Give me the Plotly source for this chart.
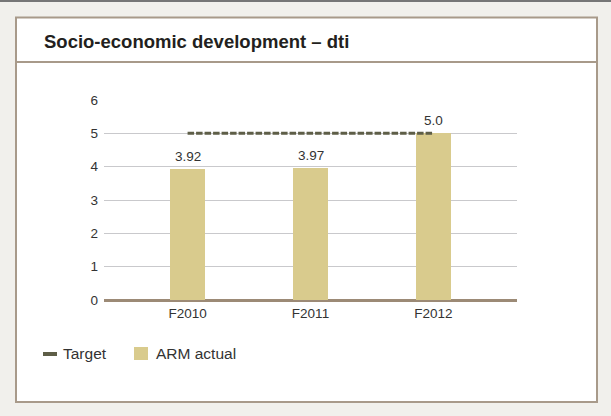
import plotly.graph_objects as go

categories = ["F2010", "F2011", "F2012"]
arm_actual = [3.92, 3.97, 5.0]
arm_labels = ["3.92", "3.97", "5.0"]
target = [5, 5, 5]
y_ticks = [0, 1, 2, 3, 4, 5, 6]

title_text = "Socio-economic development – dti"
legend_names = ["Target", "ARM actual"]

BAR_COLOR = "#d9cb8d"
TARGET_COLOR = "#5e5e47"
BORDER = "#a89a8a"
PAGE_BG = "#f1f0ec"
FONT = "Arial, Liberation Sans, sans-serif"

W, H = 611, 416
L, R, T, B = 104, 94, 100, 116
PW, PH = W - L - R, H - T - B


def px(x):
    return (x - L) / PW


def py(y):
    return (H - B - y) / PH


fig = go.Figure()
fig.add_trace(go.Bar(
    x=categories, y=arm_actual, name=legend_names[1],
    marker=dict(color=BAR_COLOR, line=dict(width=0)),
    width=0.285, showlegend=False, hoverinfo="x+y",
))
fig.add_trace(go.Scatter(
    x=categories, y=target, name=legend_names[0], mode="lines",
    line=dict(color=TARGET_COLOR, width=3, dash="6.5px,2px"),
    showlegend=False,
))

annotations = []
for c, v, t in zip(categories, arm_actual, arm_labels):
    annotations.append(dict(
        x=c, y=v, xref="x", yref="y", text=t, showarrow=False,
        yanchor="bottom", yshift=3,
        font=dict(family=FONT, size=13.5, color="#333333"),
    ))

# title
annotations.append(dict(
    x=px(41.5), y=py(42), xref="paper", yref="paper", text="<b>%s</b>" % title_text,
    showarrow=False, xanchor="left", yanchor="middle",
    font=dict(family=FONT, size=18.5, color="#231f20"),
))
# legend texts
annotations.append(dict(
    x=px(61), y=py(353), xref="paper", yref="paper", text=legend_names[0],
    showarrow=False, xanchor="left", yanchor="middle",
    font=dict(family=FONT, size=15.5, color="#333333"),
))
annotations.append(dict(
    x=px(154), y=py(353), xref="paper", yref="paper", text=legend_names[1],
    showarrow=False, xanchor="left", yanchor="middle",
    font=dict(family=FONT, size=15.5, color="#333333"),
))

shapes = [
    # top dark line
    dict(type="line", xref="paper", yref="paper", x0=px(0), x1=px(W), y0=py(1), y1=py(1),
         line=dict(color="#767676", width=2), layer="below"),
    # white panel
    dict(type="rect", xref="paper", yref="paper", x0=px(16), x1=px(597), y0=py(17.5), y1=py(402),
         fillcolor="white", line=dict(color=BORDER, width=2), layer="below"),
    # title separator
    dict(type="line", xref="paper", yref="paper", x0=px(16), x1=px(597), y0=py(62), y1=py(62),
         line=dict(color=BORDER, width=2), layer="below"),
    # legend symbols
    dict(type="line", xref="paper", yref="paper", x0=px(43), x1=px(57), y0=py(354), y1=py(354),
         line=dict(color=TARGET_COLOR, width=4)),
    dict(type="rect", xref="paper", yref="paper", x0=px(134), x1=px(148), y0=py(347), y1=py(360),
         fillcolor=BAR_COLOR, line=dict(width=0)),
]

fig.update_layout(
    width=W, height=H,
    margin=dict(l=L, r=R, t=T, b=B, pad=0),
    paper_bgcolor=PAGE_BG, plot_bgcolor="rgba(0,0,0,0)",
    font=dict(family=FONT, size=13, color="#333333"),
    showlegend=False,
    annotations=annotations, shapes=shapes,
    bargap=0,
)
fig.update_xaxes(
    type="category", range=[-0.68, 2.68], showgrid=False,
    showline=False, zeroline=False, ticks="", ticklen=0, ticklabelstandoff=3,
    tickfont=dict(family=FONT, size=13.5, color="#333333"),
)
fig.update_yaxes(
    range=[0, 6], tickvals=y_ticks, showgrid=True, gridcolor="#c9c9cc", gridwidth=1,
    zeroline=True, zerolinecolor="#9c8a76", zerolinewidth=2.5,
    showline=False, ticks="", ticklabelstandoff=5,
    tickfont=dict(family=FONT, size=13.5, color="#333333"),
)

fig.write_html(
    "out.html",
    config={"displayModeBar": False},
    post_script="document.body.style.margin='0';document.body.style.background='%s';" % PAGE_BG,
)
